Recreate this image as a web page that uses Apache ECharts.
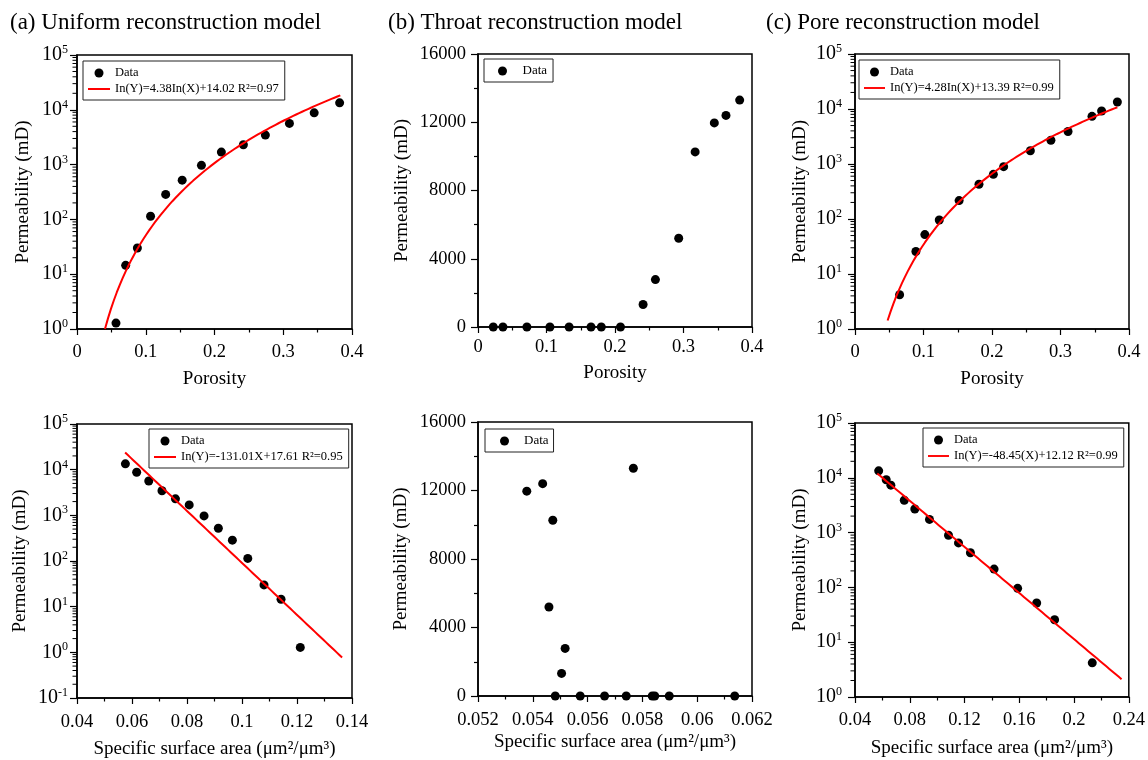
<!DOCTYPE html>
<html>
<head>
<meta charset="utf-8">
<script src="https://cdn.jsdelivr.net/npm/echarts@6/dist/echarts.min.js"></script>
<style>
  html, body { margin: 0; padding: 0; background: #fff; }
  #chart { width: 1148px; height: 760px; }
</style>
</head>
<body>
<div id="chart"></div>
<script>
// ---- Panel headings ----
const panelTitles = ['(a) Uniform reconstruction model', '(b) Throat reconstruction model', '(c) Pore reconstruction model'];

// ---- Samples: porosity, specific surface area (μm²/μm³), permeability (mD) ----
// Uniform reconstruction model
const porosityUniform = [0.0567, 0.0708, 0.0878, 0.107, 0.129, 0.153, 0.181, 0.210, 0.242, 0.274, 0.309, 0.345, 0.382];
const ssaUniform      = [0.1212, 0.1142, 0.108, 0.1021, 0.0965, 0.0914, 0.0862, 0.0808, 0.0758, 0.0709, 0.0661, 0.0617, 0.0576];
const permUniform     = [1.28, 14.5, 30, 114, 286, 520, 970, 1690, 2300, 3460, 5650, 8800, 13400];

// Throat reconstruction model
const porosityThroat = [0.0223, 0.0364, 0.0714, 0.105, 0.133, 0.165, 0.180, 0.208, 0.241, 0.259, 0.293, 0.317, 0.345, 0.362, 0.382];
const ssaThroat      = [0.05482, 0.05573, 0.05662, 0.05741, 0.05836, 0.05845, 0.05898, 0.06137, 0.05505, 0.05518, 0.05459, 0.05473, 0.05378, 0.05436, 0.05767];
const permThroat     = [0, 0, 0, 0, 0, 0, 0, 0, 1320, 2780, 5200, 10260, 11960, 12400, 13300];

// Pore reconstruction model
const porosityPore = [0.0651, 0.0889, 0.102, 0.123, 0.152, 0.181, 0.202, 0.217, 0.256, 0.286, 0.311, 0.346, 0.360, 0.383];
const ssaPore      = [0.2133, 0.1858, 0.1727, 0.1588, 0.1416, 0.1243, 0.1156, 0.1083, 0.0944, 0.0837, 0.0760, 0.0662, 0.0628, 0.0573];
const permPore     = [4.2, 25.7, 52, 96, 216, 428, 648, 894, 1740, 2700, 3890, 7350, 9200, 13400];

// ---- Regression models ln(Y) = slope * f(X) + intercept, and X span of each fitted curve ----
const fitUniformPorosity = [4.38, 14.02];     const fitUniformPorositySpan = [0.0407, 0.383];
const fitPorePorosity    = [4.28, 13.39];     const fitPorePorositySpan    = [0.0476, 0.383];
const fitUniformSsa      = [-131.01, 17.61];  const fitUniformSsaSpan      = [0.0575, 0.1364];
const fitPoreSsa         = [-48.45, 12.12];   const fitPoreSsaSpan         = [0.0563, 0.2347];
const fitLabels = [
  'In(Y)=4.38In(X)+14.02 R²=0.97',
  'In(Y)=4.28In(X)+13.39 R²=0.99',
  'In(Y)=-131.01X+17.61 R²=0.95',
  'In(Y)=-48.45(X)+12.12 R²=0.99'
];

// ---- Axis ranges [min, max, interval] ----
const porosityAxis   = [0, 0.4, 0.1];
const ssaUniformAxis = [0.04, 0.14, 0.02];
const ssaThroatAxis  = [0.052, 0.062, 0.002];
const ssaPoreAxis    = [0.04, 0.24, 0.04];
const permLinearAxis = [0, 16000, 4000];
const permLogAxis    = [1, 1e5];
const permLogAxisWide = [0.1, 1e5];

const FONT = '"Liberation Serif", "Times New Roman", Times, serif';

// Sample the regression curve along its X span
function fitCurve(coef, span, logX) {
  const pts = [];
  const n = 80;
  for (let i = 0; i <= n; i++) {
    const x = span[0] + (span[1] - span[0]) * i / n;
    const lnY = coef[0] * (logX ? Math.log(x) : x) + coef[1];
    pts.push([x, Math.exp(lnY)]);
  }
  return pts;
}

const panels = [
  { grid: [77, 55, 275, 274], x: porosityAxis, y: permLogAxis, log: true,
    xName: 'Porosity', xNameGap: 41, xLabelMargin: 14, yNameGap: 44, yLabelMargin: 9,
    xs: porosityUniform, ys: permUniform,
    fit: { coef: fitUniformPorosity, span: fitUniformPorositySpan, logX: true, name: fitLabels[0] },
    legend: { left: 83, top: 61, itemWidth: 22, fontSize: 12.5, padding: [5, 6, 4, 5] } },
  { grid: [478, 54, 274, 273], x: porosityAxis, y: permLinearAxis, log: false,
    xName: 'Porosity', xNameGap: 37, xLabelMargin: 11, yNameGap: 66, yLabelMargin: 12,
    xs: porosityThroat, ys: permThroat, fit: null,
    legend: { left: 484, top: 59, itemWidth: 30, fontSize: 13, padding: [5, 6, 4, 14] } },
  { grid: [855, 54, 274, 275], x: porosityAxis, y: permLogAxis, log: true,
    xName: 'Porosity', xNameGap: 41, xLabelMargin: 14, yNameGap: 45, yLabelMargin: 13,
    xs: porosityPore, ys: permPore,
    fit: { coef: fitPorePorosity, span: fitPorePorositySpan, logX: true, name: fitLabels[1] },
    legend: { left: 859, top: 60, itemWidth: 21, fontSize: 12.5, padding: [5, 6, 4, 5] } },
  { grid: [77, 424, 275, 274], x: ssaUniformAxis, y: permLogAxisWide, log: true,
    xName: 'Specific surface area (μm²/μm³)', xNameGap: 42, xLabelMargin: 15, yNameGap: 47, yLabelMargin: 9,
    xs: ssaUniform, ys: permUniform,
    fit: { coef: fitUniformSsa, span: fitUniformSsaSpan, logX: false, name: fitLabels[2] },
    legend: { left: 149, top: 429, itemWidth: 22, fontSize: 12.5, padding: [5, 6, 4, 5] } },
  { grid: [478, 422, 274, 274], x: ssaThroatAxis, y: permLinearAxis, log: false,
    xName: 'Specific surface area (μm²/μm³)', xNameGap: 37, xLabelMargin: 15, yNameGap: 67, yLabelMargin: 12,
    xs: ssaThroat, ys: permThroat, fit: null,
    legend: { left: 485, top: 429, itemWidth: 29, fontSize: 13, padding: [5, 5, 4, 15] } },
  { grid: [855, 423, 274, 274], x: ssaPoreAxis, y: permLogAxis, log: true,
    xName: 'Specific surface area (μm²/μm³)', xNameGap: 42, xLabelMargin: 14, yNameGap: 45, yLabelMargin: 13,
    xs: ssaPore, ys: permPore,
    fit: { coef: fitPoreSsa, span: fitPoreSsaSpan, logX: false, name: fitLabels[3] },
    legend: { left: 923, top: 428, itemWidth: 21, fontSize: 12.5, padding: [5, 6, 4, 5] } }
];

// title component adds 5px of padding on its own
const titleLeft = [5, 383, 761];

const option = {
  animation: false,
  backgroundColor: '#fff',
  title: panelTitles.map((t, i) => ({
    text: t, left: titleLeft[i], top: 6,
    textStyle: { fontFamily: FONT, fontSize: 23, fontWeight: 'normal', color: '#000' }
  })),
  grid: [], xAxis: [], yAxis: [], legend: [], series: []
};

const axisNameStyle = { fontFamily: FONT, fontSize: 19, color: '#000' };
const tickLabelBase = { fontFamily: FONT, fontSize: 18.5, color: '#000' };

panels.forEach((p, i) => {
  option.grid.push({
    left: p.grid[0], top: p.grid[1], width: p.grid[2], height: p.grid[3],
    show: true, borderColor: '#000', borderWidth: 1.5, backgroundColor: 'transparent'
  });

  option.xAxis.push({
    gridIndex: i, type: 'value', min: p.x[0], max: p.x[1], interval: p.x[2],
    name: p.xName, nameLocation: 'middle', nameGap: p.xNameGap, nameTextStyle: axisNameStyle,
    axisLine: { onZero: false, lineStyle: { color: '#000', width: 1.5 } },
    axisTick: { show: true, length: 6, lineStyle: { color: '#000', width: 1.2 } },
    minorTick: { show: true, splitNumber: 2, length: 3.5, lineStyle: { color: '#000', width: 1.2 } },
    axisLabel: Object.assign({ margin: p.xLabelMargin, showMinLabel: true, showMaxLabel: true }, tickLabelBase),
    splitLine: { show: false }
  });

  const yAxis = {
    gridIndex: i, min: p.y[0], max: p.y[1],
    name: 'Permeability (mD)', nameLocation: 'middle', nameGap: p.yNameGap, nameTextStyle: axisNameStyle,
    axisLine: { onZero: false, lineStyle: { color: '#000', width: 1.5 } },
    axisTick: { show: true, length: 7, lineStyle: { color: '#000', width: 1.2 } },
    splitLine: { show: false }
  };
  if (p.log) {
    yAxis.type = 'log';
    yAxis.logBase = 10;
    yAxis.splitNumber = Math.round(Math.log10(p.y[1]) - Math.log10(p.y[0]));
    yAxis.axisLabel = {
      margin: p.yLabelMargin, showMinLabel: true, showMaxLabel: true,
      formatter: v => '{b|10}{s|' + Math.round(Math.log10(v)) + '}',
      rich: {
        b: { fontFamily: FONT, fontSize: 20, color: '#000', lineHeight: 22 },
        s: { fontFamily: FONT, fontSize: 12, color: '#000', lineHeight: 12, verticalAlign: 'top' }
      }
    };
    yAxis.minorTick = { show: false };
  } else {
    yAxis.type = 'value';
    yAxis.interval = p.y[2];
    yAxis.axisLabel = Object.assign({ margin: p.yLabelMargin, formatter: v => String(v) }, tickLabelBase);
    yAxis.minorTick = { show: true, splitNumber: 2, length: 4, lineStyle: { color: '#000', width: 1.2 } };
  }
  option.yAxis.push(yAxis);

  // measured samples
  option.series.push({
    name: 'Data', type: 'scatter', xAxisIndex: i, yAxisIndex: i,
    data: p.xs.map((x, k) => [x, p.ys[k]]),
    symbol: 'circle', symbolSize: 9, clip: false,
    itemStyle: { color: '#000', opacity: 1 }, z: 3
  });

  const legendData = [{ name: 'Data', icon: 'circle' }];
  if (p.fit) {
    option.series.push({
      name: p.fit.name, type: 'line', xAxisIndex: i, yAxisIndex: i,
      data: fitCurve(p.fit.coef, p.fit.span, p.fit.logX),
      symbol: 'none', smooth: false,
      lineStyle: { color: '#ff0000', width: 2 }, itemStyle: { color: '#ff0000' }, z: 4
    });
    legendData.push({ name: p.fit.name, icon: 'path://M0,0H22V2H0Z' });
  }

  // logarithmic minor ticks (2..9 within each decade), outside the left axis
  if (p.log) {
    const x0 = p.x[0];
    const e0 = Math.round(Math.log10(p.y[0]));
    const e1 = Math.round(Math.log10(p.y[1]));
    option.series.push({
      type: 'custom', xAxisIndex: i, yAxisIndex: i, silent: true, clip: false, z: 5,
      data: [[x0, p.y[0]]],
      renderItem: (params, api) => {
        const children = [];
        for (let e = e0; e < e1; e++) {
          for (let k = 2; k < 10; k++) {
            const pt = api.coord([x0, k * Math.pow(10, e)]);
            children.push({
              type: 'line',
              shape: { x1: pt[0] - 4.5, y1: pt[1], x2: pt[0], y2: pt[1] },
              style: { stroke: '#000', lineWidth: 1 }
            });
          }
        }
        return { type: 'group', children };
      }
    });
  }

  option.legend.push({
    left: p.legend.left, top: p.legend.top, orient: 'vertical',
    data: legendData, selectedMode: false,
    itemWidth: p.legend.itemWidth, itemHeight: 9, itemGap: 2,
    padding: p.legend.padding,
    borderColor: '#222', borderWidth: 1, backgroundColor: '#fff',
    itemStyle: { borderWidth: 0 },
    textStyle: { fontFamily: FONT, fontSize: p.legend.fontSize, color: '#000', lineHeight: 14 }
  });
});

const chart = echarts.init(document.getElementById('chart'), null, { renderer: 'canvas' });
chart.setOption(option);
</script>
</body>
</html>
